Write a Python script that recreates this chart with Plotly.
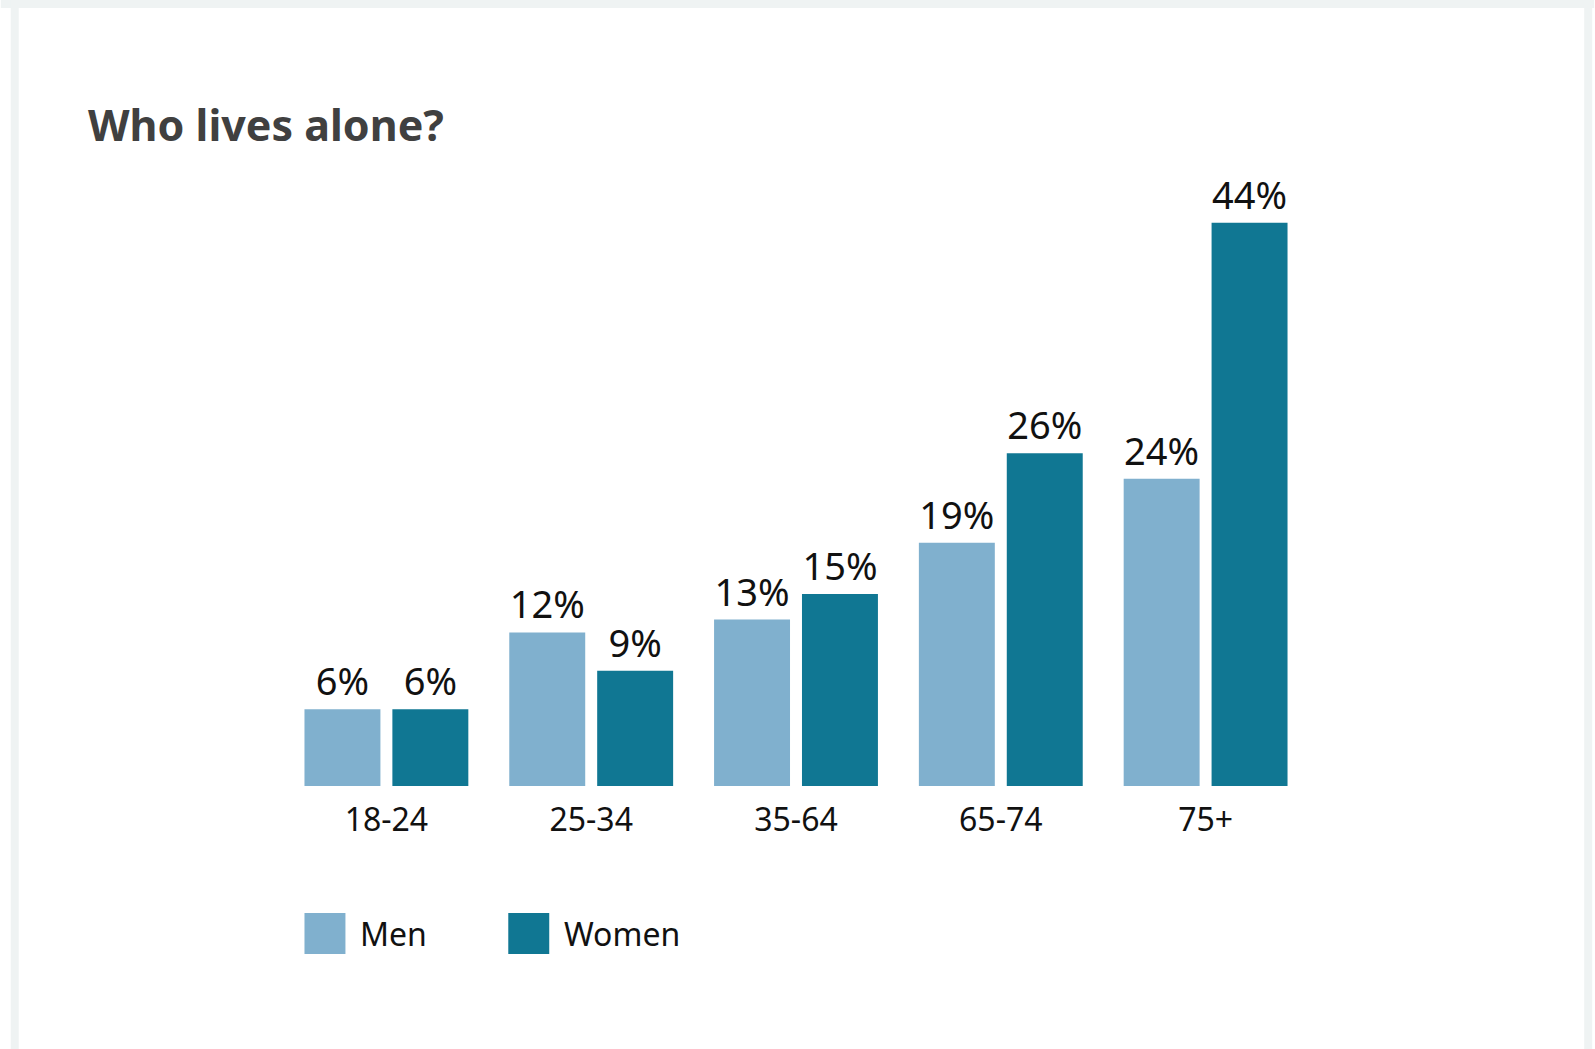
import plotly.graph_objects as go

categories = ["18-24", "25-34", "35-64", "65-74", "75+"]
men = [6, 12, 13, 19, 24]
women = [6, 9, 15, 26, 44]
series_names = ["Men", "Women"]
colors = ["#80b0ce", "#107793"]

W, H = 1595, 1049
L, R, T, B = 283.5, 286.5, 146, 263
PW, PH = W - L - R, H - T - B
YMAX = 50

def px(xp):
    return (xp - L) / PW

def py(yp):
    return (H - B - yp) / PH

FONT = "Noto Sans"

fig = go.Figure()
for name, vals, col in zip(series_names, [men, women], colors):
    fig.add_trace(go.Bar(
        x=categories, y=vals, name=name, marker_color=col, marker_line_width=0,
        text=[f"{v}%" for v in vals], textposition="outside",
        textfont=dict(family=FONT, size=38, color="#111111"),
        cliponaxis=False, showlegend=False,
    ))

shapes = []
# frame
gray = "#eff3f3"
shapes.append(dict(type="rect", xref="paper", yref="paper", x0=px(0), x1=px(W), y0=py(0), y1=py(8),
                   fillcolor=gray, line_width=0, layer="below"))
shapes.append(dict(type="rect", xref="paper", yref="paper", x0=px(10), x1=px(18), y0=py(0), y1=py(H),
                   fillcolor=gray, line_width=0, layer="below"))
shapes.append(dict(type="rect", xref="paper", yref="paper", x0=px(1585), x1=px(1593), y0=py(0), y1=py(H),
                   fillcolor=gray, line_width=0, layer="below"))

annotations = []
# custom legend
leg_x = [304, 508]
for name, col, lx in zip(series_names, colors, leg_x):
    shapes.append(dict(type="rect", xref="paper", yref="paper", x0=px(lx), x1=px(lx + 41),
                       y0=py(913), y1=py(954), fillcolor=col, line_width=0))
    annotations.append(dict(xref="paper", yref="paper", x=px(lx + 54), y=py(933), text=name,
                            showarrow=False, xanchor="left", yanchor="middle",
                            font=dict(family=FONT, size=32, color="#111111")))

fig.update_layout(
    width=W, height=H,
    margin=dict(l=L, r=R, t=T, b=B, pad=0),
    paper_bgcolor="white", plot_bgcolor="white",
    barmode="group", bargap=0.1415, bargroupgap=0.136,
    title=dict(text="<b>Who lives alone?</b>", xref="container", yref="container",
               x=88 / W, y=1 - 126 / H, xanchor="left", yanchor="middle",
               font=dict(family=FONT, size=43, color="#404040")),
    xaxis=dict(showgrid=False, zeroline=False, showline=False, ticks="",
               tickfont=dict(family=FONT, size=32, color="#111111"), ticklabelstandoff=12),
    yaxis=dict(range=[0, YMAX], visible=False, fixedrange=True),
    shapes=shapes, annotations=annotations,
    uniformtext=dict(mode=False),
)

fig.write_html("out.html")
